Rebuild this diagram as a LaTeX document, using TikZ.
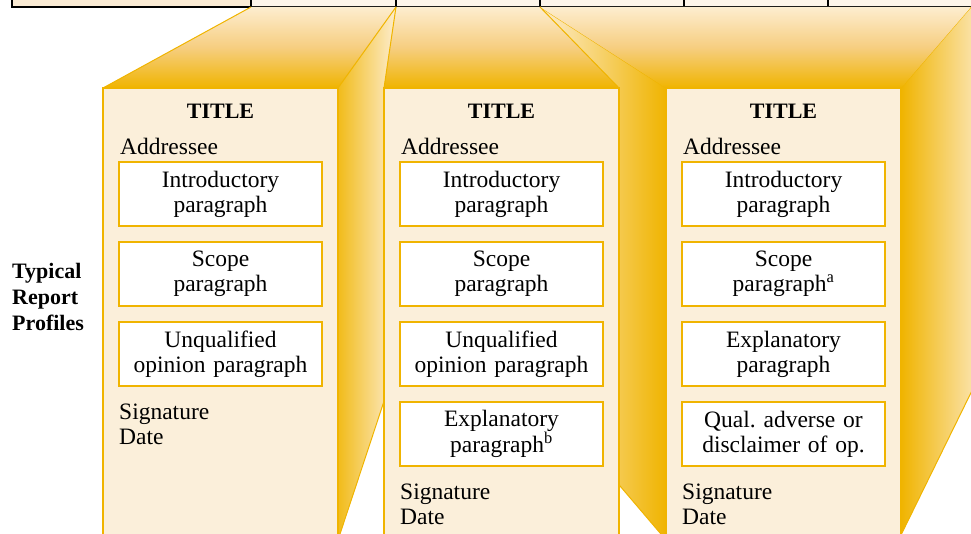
\documentclass[tikz,border=0pt]{standalone}
\usepackage{fontspec}
\setmainfont{Liberation Serif}
\usetikzlibrary{positioning}

\definecolor{cream}{HTML}{FBEFDA}
\definecolor{rowcream}{HTML}{FEF5EA}
\definecolor{rowtan}{HTML}{FAEBD4}
\definecolor{gold}{HTML}{F0B400}
\definecolor{midgold}{HTML}{F6CE80}
\definecolor{palegold}{HTML}{FDEDCF}

\newcommand{\panelfont}{\fontsize{23.5}{25}\selectfont}
\frenchspacing

\begin{document}
\begin{tikzpicture}[x=1pt, y=-1pt,
  panel/.style={draw=gold, fill=cream, line width=1.4pt},
  face/.style={draw=gold, line width=1pt},
  cell/.style={draw=black, line width=1.2pt},
  parabox/.style={draw=gold, fill=white, line width=1.1pt, minimum width=203pt,
    minimum height=64pt, text width=200pt, align=center, inner sep=0pt, outer sep=0pt,
    font=\panelfont},
  head/.style={font=\fontsize{22}{25}\selectfont\bfseries, inner sep=0pt},
  plain/.style={font=\panelfont, align=left, inner sep=0pt},
  node distance=16pt]

  \useasboundingbox (0,0) rectangle (971,534);
  \clip (0,0) rectangle (971,534);

  % index row
  \draw[cell, fill=rowtan] (12,-10) rectangle (251,7);
  \foreach \a/\b in {251/396, 396/540, 540/684, 684/828, 828/990}
    \draw[cell, fill=rowcream] (\a,-10) rectangle (\b,7);

  % side faces
  \shade[left color=gold!90!white, right color=palegold]
    (338,88) -- (396,7) -- (396,365) -- (338,540) -- cycle;
  \draw[face] (396,365) -- (338,540);
  \shade[left color=palegold, right color=gold]
    (666,88) -- (540,7) -- (540,392) -- (666,540) -- cycle;
  \draw[face] (540,7) -- (666,88) (540,392) -- (666,540);
  \shade[left color=gold, right color=palegold]
    (901,88) -- (971,7) -- (990,7) -- (990,354) -- (901,535) -- cycle;
  \draw[face] (971,7) -- (901,88) (990,354) -- (901,535);

  % top faces
  \shade[top color=palegold, bottom color=gold, middle color=midgold]
    (103,88) -- (251,7) -- (396,7) -- (338,88) -- cycle;
  \shade[top color=palegold, bottom color=gold, middle color=midgold]
    (384,88) -- (396,7) -- (540,7) -- (619,88) -- cycle;
  \shade[top color=palegold, bottom color=gold, middle color=midgold]
    (666,88) -- (540,7) -- (971,7) -- (901,88) -- cycle;
  \draw[face] (103,88) -- (251,7) (396,7) -- (338,88);
  \draw[face] (384,88) -- (396,7) (540,7) -- (619,88);

  % front faces
  \draw[panel] (103,88) rectangle (338,545);
  \draw[panel] (384,88) rectangle (619,545);
  \draw[panel] (666,88) rectangle (901,545);

  \node[font=\fontsize{22}{26}\selectfont\bfseries, align=left, inner sep=0pt, anchor=west]
    (profiles) at (12,297) {Typical\\Report\\Profiles};

  % unqualified
  \node[head] (title1) at (220.5,111) {TITLE};
  \node[plain, anchor=base west] (addr1) at (120,155) {Addressee};
  \node[parabox] (intro1) at (220.5,194) {Introductory\\paragraph};
  \node[parabox, below=of intro1] (scope1) {Scope\\paragraph};
  \node[parabox, below=of scope1] (opin1) {Unqualified\\opinion paragraph};
  \node[plain, below=18pt of opin1.south west, anchor=north west] (sign1) {Signature\\Date};

  % unqualified with explanatory paragraph
  \node[head] (title2) at (501.5,111) {TITLE};
  \node[plain, anchor=base west] (addr2) at (401,155) {Addressee};
  \node[parabox] (intro2) at (501.5,194) {Introductory\\paragraph};
  \node[parabox, below=of intro2] (scope2) {Scope\\paragraph};
  \node[parabox, below=of scope2] (opin2) {Unqualified\\opinion paragraph};
  \node[parabox, below=of opin2] (expl2) {Explanatory\\paragraph\textsuperscript{b}};
  \node[plain, below=18pt of expl2.south west, anchor=north west] (sign2) {Signature\\Date};

  % other than unqualified
  \node[head] (title3) at (783.5,111) {TITLE};
  \node[plain, anchor=base west] (addr3) at (683,155) {Addressee};
  \node[parabox] (intro3) at (783.5,194) {Introductory\\paragraph};
  \node[parabox, below=of intro3] (scope3) {Scope\\paragraph\textsuperscript{a}};
  \node[parabox, below=of scope3] (expl3) {Explanatory\\paragraph};
  \node[parabox, below=of expl3] (qual3) {Qual. adverse or\\disclaimer of op.};
  \node[plain, below=18pt of qual3.south west, anchor=north west] (sign3) {Signature\\Date};
\end{tikzpicture}
\end{document}
